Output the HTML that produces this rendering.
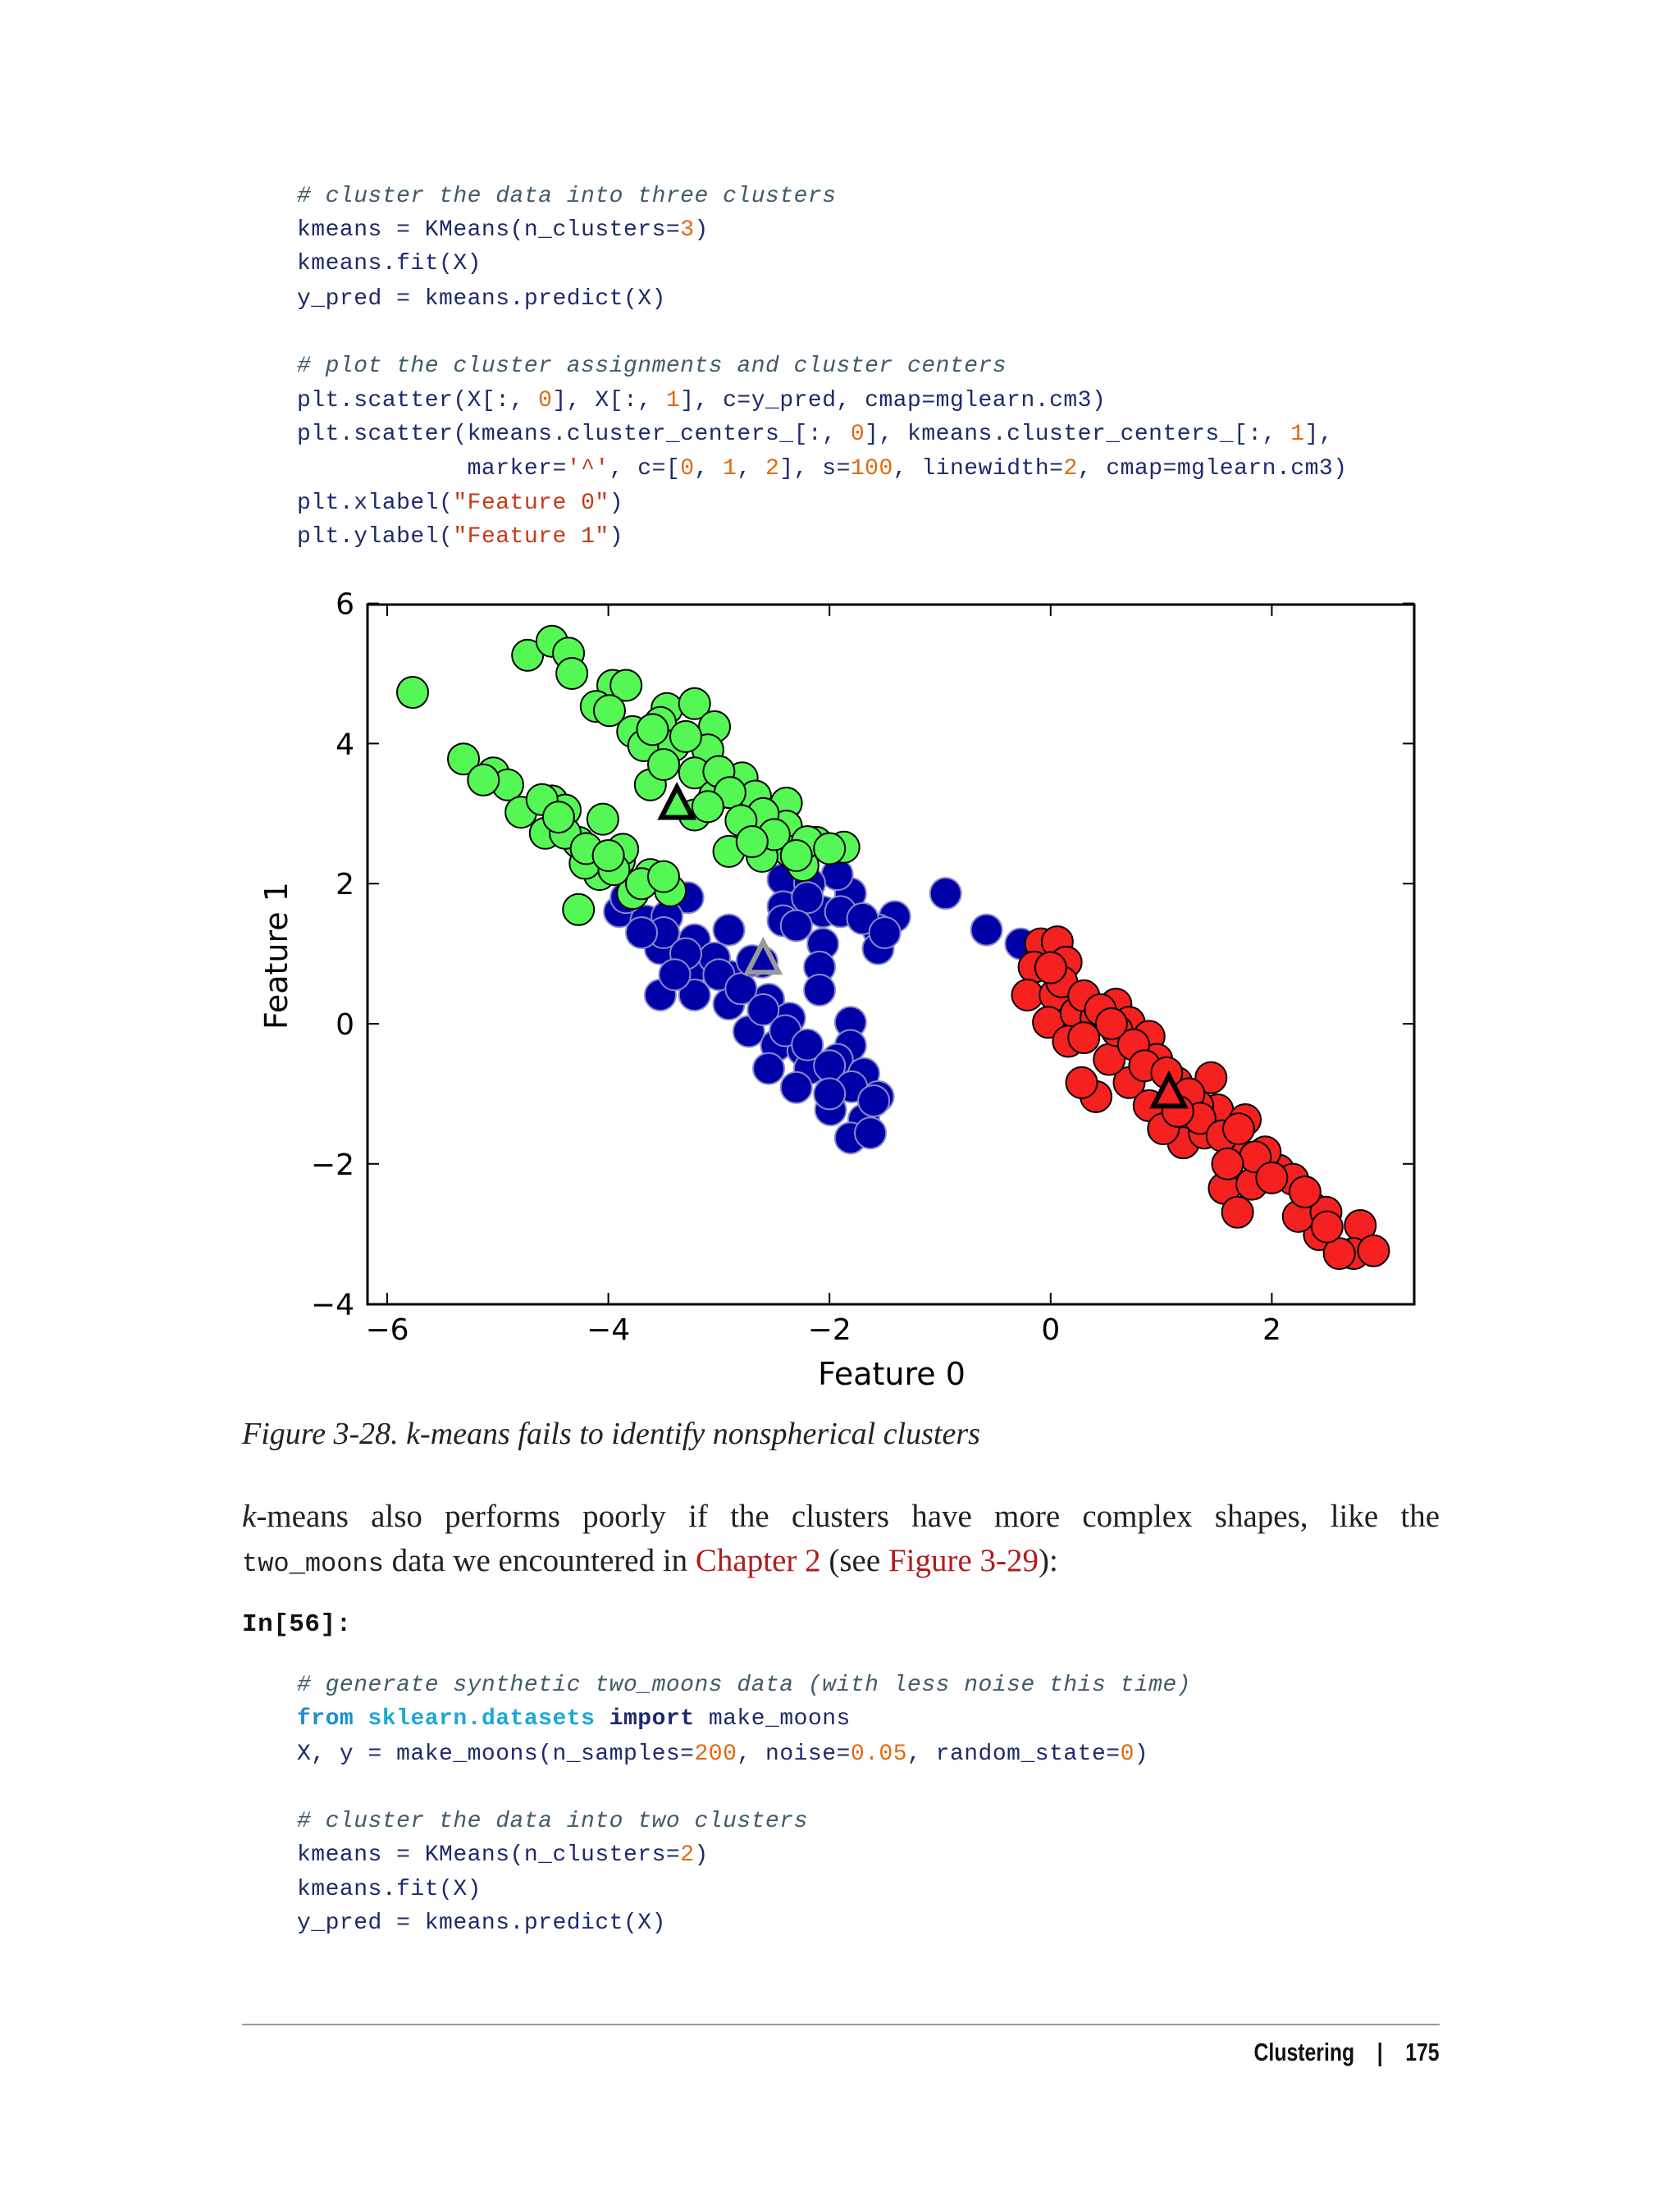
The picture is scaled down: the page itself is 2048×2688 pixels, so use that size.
<!DOCTYPE html>
<html><head><meta charset="utf-8"><style>
body{margin:0;background:#fff;}
#page{position:relative;width:2048px;height:2688px;overflow:hidden;background:#fff;}
.code{position:absolute;left:362px;font-family:"Liberation Mono",monospace;font-size:28px;line-height:40px;height:40px;color:#1c2a6b;white-space:pre;letter-spacing:0.5px;}
.cm{color:#3f5b6a;font-style:italic;}
.n{color:#e06a10;}
.s{color:#c43a16;}
.kw{color:#1a8fd0;font-weight:bold;}
.t{position:absolute;font-family:"Liberation Serif",serif;white-space:nowrap;}
</style></head><body>
<div id="page">
<div class="code cm" style="top:220px"># cluster the data into three clusters</div>
<div class="code" style="top:261px">kmeans = KMeans(n_clusters=<span class="n">3</span>)</div>
<div class="code" style="top:302px">kmeans.fit(X)</div>
<div class="code" style="top:345px">y_pred = kmeans.predict(X)</div>
<div class="code cm" style="top:427px"># plot the cluster assignments and cluster centers</div>
<div class="code" style="top:469px">plt.scatter(X[:, <span class="n">0</span>], X[:, <span class="n">1</span>], c=y_pred, cmap=mglearn.cm3)</div>
<div class="code" style="top:510px">plt.scatter(kmeans.cluster_centers_[:, <span class="n">0</span>], kmeans.cluster_centers_[:, <span class="n">1</span>],</div>
<div class="code" style="top:552px">            marker=<span class="s">'^'</span>, c=[<span class="n">0</span>, <span class="n">1</span>, <span class="n">2</span>], s=<span class="n">100</span>, linewidth=<span class="n">2</span>, cmap=mglearn.cm3)</div>
<div class="code" style="top:594px">plt.xlabel(<span class="s">"Feature 0"</span>)</div>
<div class="code" style="top:635px">plt.ylabel(<span class="s">"Feature 1"</span>)</div>

<svg id="chart" width="2048" height="2688" style="position:absolute;left:0;top:0"></svg>

<div class="t" style="left:295px;top:1726px;font-size:38px;font-style:italic;color:#222">Figure 3-28. k-means fails to identify nonspherical clusters</div>
<div class="t" style="left:295px;top:1826px;width:1460px;font-size:39px;color:#222;text-align:justify;text-align-last:justify"><i>k</i>-means also performs poorly if the clusters have more complex shapes, like the</div>
<div class="t" style="left:295px;top:1880px;font-size:39px;color:#222"><span style="font-family:'Liberation Mono',monospace;font-size:32px">two_moons</span> data we encountered in <span style="color:#b01c1c">Chapter 2</span> (see <span style="color:#b01c1c">Figure 3-29</span>):</div>
<div class="code" style="left:295px;top:1961px;font-weight:bold;color:#111;font-size:31px">In[56]:</div>
<div class="code cm" style="top:2035px"># generate synthetic two_moons data (with less noise this time)</div>
<div class="code" style="top:2076px"><span class="kw">from</span> <span class="kw" style="font-weight:bold;color:#19a8d8">sklearn.datasets</span> <span class="kw" style="color:#1c2a6b">import</span> make_moons</div>
<div class="code" style="top:2119px">X, y = make_moons(n_samples=<span class="n">200</span>, noise=<span class="n">0.05</span>, random_state=<span class="n">0</span>)</div>
<div class="code cm" style="top:2201px"># cluster the data into two clusters</div>
<div class="code" style="top:2242px">kmeans = KMeans(n_clusters=<span class="n">2</span>)</div>
<div class="code" style="top:2284px">kmeans.fit(X)</div>
<div class="code" style="top:2325px">y_pred = kmeans.predict(X)</div>
<div style="position:absolute;left:295px;top:2467px;width:1460px;height:2px;background:#999"></div>
<div class="t" style="right:293px;top:2484px;font-family:'Liberation Sans',sans-serif;font-weight:bold;font-size:31px;color:#111;transform:scaleX(0.8);transform-origin:right">Clustering &nbsp;&nbsp;&nbsp;|&nbsp;&nbsp;&nbsp; 175</div>
</div>
<script>
const xTicks=[-6,-4,-2,0,2];
const yTicks=[6,4,2,0,-2,-4];
const greenX=[-5.77,-4.73,-4.51,-4.36,-4.33,-3.96,-3.84,-4.11,-3.99,-3.47,-3.22,-3.04,-3.53,-3.78,-3.68,-3.41,-3.10,-3.22,-3.62,-3.04,-2.79,-2.67,-2.39,-3.22,-2.73,-2.91,-2.55,-2.39,-2.36,-2.12,-1.87,-2.24,-2.61,-5.31,-5.04,-4.91,-4.79,-4.51,-4.39,-4.57,-4.05,-4.27,-4.08,-3.90,-3.62,-3.44,-3.78,-4.27,-4.39,-3.87,-4.21,-5.13,-3.6,-3.3,-3.0,-2.9,-2.6,-2.5,-2.2,-2.0,-3.5,-3.1,-2.8,-4.6,-4.45,-4.2,-3.95,-3.7,-3.5,-4.0,-2.7,-2.3];
const greenY=[4.73,5.26,5.46,5.29,5.0,4.83,4.83,4.53,4.47,4.50,4.57,4.24,4.30,4.17,3.97,3.97,3.91,3.58,3.41,3.25,3.51,3.25,3.15,2.98,2.79,2.46,2.66,2.82,2.46,2.59,2.52,2.26,2.39,3.78,3.58,3.41,3.02,3.18,3.05,2.72,2.92,2.59,2.13,2.33,2.13,1.90,1.86,1.63,2.72,2.49,2.29,3.48,4.2,4.1,3.6,3.3,3.0,2.7,2.6,2.5,3.7,3.1,2.9,3.2,2.95,2.5,2.2,2.0,2.1,2.4,2.6,2.4];
const blueX=[-0.95,-0.58,-0.27,-1.41,-1.56,-1.56,-1.81,-1.93,-2.42,-2.42,-2.06,-2.06,-2.42,-2.18,-2.09,-2.09,-3.28,-3.90,-3.66,-3.53,-3.22,-2.91,-3.22,-2.91,-2.61,-3.53,-3.22,-2.91,-2.55,-2.36,-2.73,-2.48,-2.24,-1.81,-1.81,-2.55,-2.18,-1.93,-1.99,-1.69,-1.56,-1.69,-1.81,-1.63,-3.84,-3.47,-3.04,-2.30,-3.5,-3.3,-3.0,-2.8,-2.6,-2.4,-2.2,-2.0,-1.8,-3.7,-3.4,-2.7,-2.2,-1.9,-1.7,-1.5,-2.3,-1.6,-2.0];
const blueY=[1.86,1.34,1.14,1.53,1.34,1.07,1.86,2.13,2.06,1.67,1.60,1.14,1.47,2.00,0.81,0.48,1.80,1.60,1.47,1.07,1.20,1.34,0.81,0.68,0.88,0.41,0.41,0.28,0.35,0.08,-0.11,-0.31,-0.38,0.02,-0.31,-0.64,-0.64,-0.51,-1.23,-0.71,-1.04,-1.37,-1.63,-1.56,1.80,1.53,0.94,-0.91,1.3,1.0,0.7,0.5,0.2,-0.1,-0.3,-0.6,-0.9,1.3,0.7,0.9,1.8,1.6,1.5,1.3,1.4,-1.1,-1.0];
const redX=[-0.09,0.06,-0.15,0.14,-0.21,0.04,-0.02,0.23,0.16,0.41,0.59,0.71,0.41,0.71,0.89,0.96,1.14,0.89,1.20,1.39,1.45,1.51,1.76,1.69,1.57,1.82,1.69,2.06,2.19,2.36,2.43,2.24,2.49,2.80,2.74,2.92,2.61,0.53,0.28,1.33,1.94,1.02,0.1,0.3,0.45,0.6,0.75,0.85,1.05,1.25,1.35,1.55,1.7,1.85,2.0,2.3,2.5,0.0,0.3,1.15,0.55,1.6];
const redY=[1.14,1.17,0.81,0.88,0.41,0.41,0.02,0.15,-0.25,0.08,0.28,0.02,-1.04,-0.84,-0.18,-0.51,-0.84,-1.17,-1.70,-1.56,-0.77,-1.23,-1.37,-1.83,-2.35,-2.29,-2.69,-2.09,-2.22,-2.62,-3.01,-2.75,-2.69,-2.88,-3.28,-3.24,-3.28,-0.51,-0.84,-1.17,-1.83,-1.50,0.6,0.4,0.2,-0.1,-0.3,-0.6,-0.7,-1.0,-1.35,-1.6,-1.5,-1.9,-2.2,-2.4,-2.9,0.8,-0.2,-1.25,0.0,-2.0];
const centerX=[-3.38,-2.60,1.07];
const centerY=[3.12,0.91,-1.00];

const NS='http://www.w3.org/2000/svg';
const svg=document.getElementById('chart');
const L=448,R=1724,T=737,B=1590;
const sx=v=>472+(v+6)*134.8;
const sy=v=>1248-v*85.4;
function mk(tag,attrs){const e=document.createElementNS(NS,tag);for(const k in attrs)e.setAttribute(k,attrs[k]);svg.appendChild(e);return e;}
function scatter(xs,ys,fill,edge,name){
  for(let i=0;i<xs.length;i++){
    const c=mk('circle',{cx:sx(xs[i]),cy:sy(ys[i]),r:19,fill:fill,stroke:edge,'stroke-width':2});
    
    
  }
}
scatter(blueX,blueY,'#0000a8','#8a8ac8','point-blue-cluster');
scatter(greenX,greenY,'#55f755','#000','point-green-cluster');
scatter(redX,redY,'#f52020','#000','point-red-cluster');
const cFill=['#55f755','#0000a8','#f52020'];
const cEdge=['#000','#999','#000'];
for(let i=0;i<centerX.length;i++){
  const x=sx(centerX[i]),y=sy(centerY[i]);
  const p=mk('polygon',{points:`${x},${y-22} ${x-19},${y+15} ${x+19},${y+15}`,fill:cFill[i],stroke:cEdge[i],'stroke-width':6});
  
  
}
const fr=mk('rect',{x:L,y:T,width:R-L,height:B-T,fill:'none',stroke:'#000','stroke-width':3});


for(const v of xTicks){
  const x=sx(v);
  mk('line',{x1:x,y1:B,x2:x,y2:B-14,stroke:'#000','stroke-width':2});
  mk('line',{x1:x,y1:T,x2:x,y2:T+14,stroke:'#000','stroke-width':2});
  const t=mk('text',{x:x,y:1633,'font-family':'DejaVu Sans, sans-serif','font-size':36,'text-anchor':'middle',fill:'#000'});
  t.textContent=v<0?'\u2212'+(-v):String(v);
  
  
}
for(const v of yTicks){
  const y=sy(v);
  mk('line',{x1:L,y1:y,x2:L+14,y2:y,stroke:'#000','stroke-width':2});
  mk('line',{x1:R,y1:y,x2:R-14,y2:y,stroke:'#000','stroke-width':2});
  const t=mk('text',{x:432,y:y+13,'font-family':'DejaVu Sans, sans-serif','font-size':36,'text-anchor':'end',fill:'#000'});
  t.textContent=v<0?'\u2212'+(-v):String(v);
  
  
}
const xl=mk('text',{x:1087,y:1688,'font-family':'DejaVu Sans, sans-serif','font-size':38,'text-anchor':'middle',fill:'#000'});
xl.textContent='Feature 0';


const yl=mk('text',{x:350,y:1165,'font-family':'DejaVu Sans, sans-serif','font-size':38,'text-anchor':'middle',fill:'#000',transform:'rotate(-90 350 1165)'});
yl.textContent='Feature 1';


</script>
</body></html>
